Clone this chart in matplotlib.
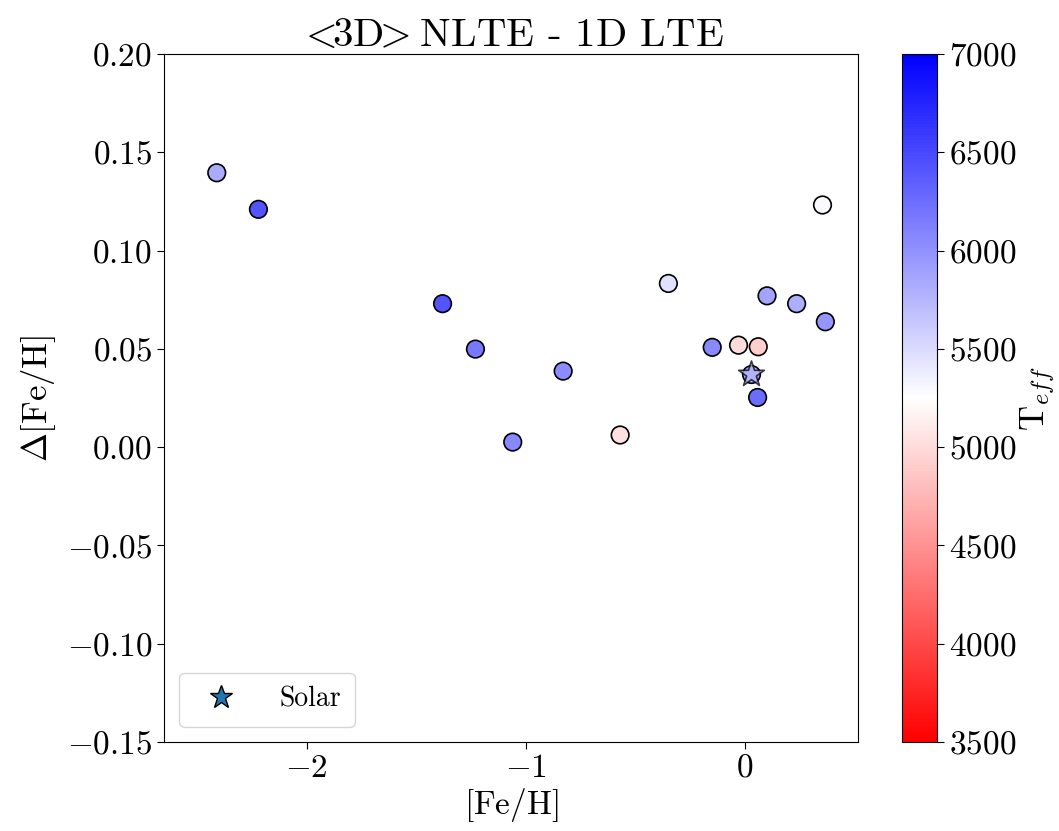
import matplotlib
matplotlib.use("Agg")
import matplotlib.pyplot as plt
from matplotlib.lines import Line2D
from matplotlib.ticker import FuncFormatter
import numpy as np

plt.rcParams['font.family'] = 'serif'
plt.rcParams['font.serif'] = ['cmr10']
plt.rcParams['mathtext.fontset'] = 'cm'
plt.rcParams['axes.formatter.use_mathtext'] = True

# metallicity, abundance correction and effective temperature per star
feh = [-2.41, -2.22, -1.38, -1.23, -1.06, -0.83, -0.57, -0.35, -0.15,
       -0.03, 0.06, 0.057, 0.10, 0.235, 0.366, 0.353]
dfeh = [0.1396, 0.1210, 0.0730, 0.0499, 0.0026, 0.0387, 0.0062, 0.0833, 0.0508,
        0.0519, 0.0511, 0.0253, 0.0770, 0.0730, 0.0638, 0.1232]
teff = [5830, 6420, 6420, 6170, 6070, 6040, 5040, 5460, 6070,
        5010, 4910, 6250, 5870, 5800, 5970, 5280]

# the Sun
sun_feh = [0.028]
sun_dfeh = [0.0370]
sun_teff = [5772]

fig = plt.figure(figsize=(10.59, 8.31), dpi=100)
ax = fig.add_axes([0.155, 0.107, 0.655, 0.828])
cax = fig.add_axes([0.852, 0.107, 0.033, 0.828])

sc = ax.scatter(feh, dfeh, c=teff, cmap='bwr_r', vmin=3500, vmax=7000,
                s=160, edgecolors='black', linewidths=1.2, zorder=3)
ax.scatter(sun_feh, sun_dfeh, c=sun_teff, cmap='bwr_r', vmin=3500, vmax=7000,
           s=160, edgecolors='black', linewidths=1.2, zorder=3)
ax.scatter(sun_feh, sun_dfeh, c=sun_teff, cmap='bwr_r', vmin=3500, vmax=7000,
           marker='*', s=380, edgecolors='black', linewidths=1.2, alpha=0.75, zorder=4)

ax.set_xlim(-2.65, 0.514)
ax.set_ylim(-0.15, 0.20)
ax.set_yticks(np.arange(-0.15, 0.2001, 0.05))
ax.yaxis.set_major_formatter(FuncFormatter(lambda v, p: '$%.2f$' % v))
ax.tick_params(labelsize=24, length=5)

ax.set_title(r'$<\!\!\mathrm{3D}\!\!>\!\!$ NLTE - 1D LTE', fontsize=29.5, pad=6)
ax.set_xlabel(r'$[\mathrm{Fe/H}]$', fontsize=24, labelpad=2)
ax.set_ylabel(r'$\Delta[\mathrm{Fe/H}]$', fontsize=25, labelpad=6)

star = Line2D([], [], marker='*', linestyle='none', markersize=17,
              markerfacecolor='#1f77b4', markeredgecolor='black', markeredgewidth=1.0)
ax.legend([star], ['Solar'], loc='lower left', fontsize=20, handlelength=2.0,
          handletextpad=1.1, borderpad=0.5, borderaxespad=0.55)

cb = fig.colorbar(sc, cax=cax)
cb.set_ticks(np.arange(3500, 7001, 500))
cb.ax.tick_params(labelsize=24, length=5)
cb.set_label(r'T$_{eff}$', fontsize=25, labelpad=2)

fig.savefig('out.png', dpi=100)
